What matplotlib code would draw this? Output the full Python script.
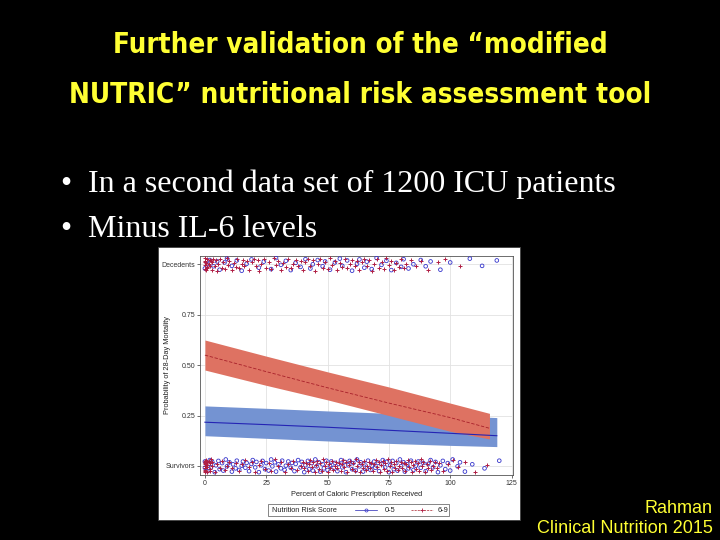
import numpy as np
import matplotlib
matplotlib.use("Agg")
import matplotlib.pyplot as plt
from matplotlib.patches import Rectangle
from matplotlib.lines import Line2D
from matplotlib import font_manager

# ---------------- data ----------------
title_lines = ["Further validation of the \u201cmodified", "NUTRIC\u201d nutritional risk assessment tool"]
bullets = ["In a second data set of 1200 ICU patients", "Minus IL-6 levels"]
credit = ["Rahman", "Clinical Nutrition 2015"]

x_ticks = [0, 25, 50, 75, 100, 125]
y_ticks = [0.0, 0.25, 0.50, 0.75, 1.0]
y_ticklabels = ["Survivors", "0.25", "0.50", "0.75", "Decedents"]

# fitted probability bands (risk 6-9)
hi_x = [0, 25, 50, 75, 100, 116]
hi_upper = [0.625, 0.545, 0.467, 0.392, 0.312, 0.261]
hi_fit = [0.550, 0.468, 0.388, 0.312, 0.240, 0.187]
hi_lower = [0.476, 0.400, 0.328, 0.250, 0.172, 0.134]
# fitted probability bands (risk 0-5)
lo_x = [0, 25, 50, 75, 100, 119]
lo_upper = [0.298, 0.286, 0.273, 0.261, 0.250, 0.240]
lo_fit = [0.217, 0.205, 0.192, 0.177, 0.162, 0.150]
lo_lower = [0.150, 0.137, 0.124, 0.112, 0.102, 0.096]

# observed outcomes (percent of caloric prescription received)
dec_hi = [0, 0, 0, 0, 0, 0.5, 0.5, 1, 1, 1, 1.5, 2, 2, 2.5, 3, 3, 3.5, 4, 4.5, 5, 5.5, 6, 7, 7.5,
          8, 9, 9.5, 10, 11, 12, 12.5, 13, 14, 15, 15.5, 16, 17, 18, 19, 20, 21, 21.5, 22, 23, 24,
          25, 26, 27, 28, 29, 30, 31, 32, 33, 34, 35, 36, 37, 38, 39, 40, 41, 42, 43, 44, 45, 46,
          47, 48, 49, 50, 51, 52, 53, 54, 55, 56, 57, 58, 59, 60, 61, 62, 63, 64, 65, 66, 67, 68,
          69, 70, 71, 72, 73, 74, 75, 76, 77, 78, 79, 80, 81, 82, 84, 86, 88, 91, 95, 98, 104]
dec_lo = [0, 1, 2, 3.5, 5, 6, 8, 9, 11, 13, 15, 17, 19, 22, 24, 27, 29, 31, 33, 35, 37, 39, 41,
          43, 44, 46, 48, 49, 51, 53, 55, 56, 58, 60, 62, 63, 65, 66, 68, 70, 72, 74, 76, 78, 80,
          81, 83, 85, 88, 90, 92, 96, 100, 108, 113, 119]
surv_hi = [0, 0, 0, 0, 0, 0, 0, 0, 0, 0, 0.5, 0.5, 1, 1, 1, 1, 1.5, 2, 2, 2, 2.5, 3, 3, 4, 5, 6,
           7, 8, 9, 10, 11, 12.5, 14, 15, 16.5, 18, 19, 20.5, 22, 23, 24.5, 26, 27, 28.5, 30, 31,
           32.5, 34, 35, 36, 37.5, 39, 40, 40.6, 41.2, 41.9, 42.3, 43, 43.5, 44.1, 44.8, 45.2,
           45.9, 46.4, 47, 47.7, 48.1, 48.8, 49.3, 50, 50.4, 51.1, 51.7, 52.2, 52.9, 53.4, 54,
           54.6, 55.3, 55.8, 56.2, 56.9, 57.5, 58, 58.7, 59.1, 59.8, 60.3, 61, 61.5, 62.2, 62.7,
           63.3, 63.9, 64.4, 65, 65.6, 66.1, 66.8, 67.2, 67.9, 68.4, 69, 69.7, 70.1, 70.8, 71.3,
           71.9, 72.5, 73, 73.6, 74.2, 74.7, 75.3, 75.9, 76.4, 77, 77.6, 78.1, 78.7, 79.2, 79.9,
           80.4, 81, 81.5, 82.1, 82.8, 83.3, 83.9, 84.4, 85, 85.7, 86.2, 86.8, 87.3, 88, 88.6,
           89.1, 89.8, 90.4, 91, 91.7, 92.3, 93, 93.8, 94.6, 95.5, 97, 99, 101, 103, 106, 110, 115]
surv_lo = [0, 0, 0.5, 1, 1.5, 2, 2.5, 3, 4, 4.5, 5.5, 6, 7, 7.5, 8.5, 9, 10, 11, 11.5, 12.5, 13,
           14, 15, 15.5, 16.5, 17, 18, 19, 19.5, 20.5, 21, 22, 23, 23.5, 24.5, 25, 26, 27, 27.5,
           28.5, 29, 30, 31, 31.5, 32.5, 33, 34, 35, 35.5, 36.5, 37, 38, 39, 39.5, 40.5, 41, 42,
           42.5, 43.5, 44, 45, 45.5, 46.5, 47, 48, 48.5, 49.5, 50, 51, 51.5, 52.5, 53, 54, 54.5,
           55.5, 56, 57, 57.5, 58.5, 59, 60, 60.5, 61.5, 62, 63, 63.5, 64.5, 65, 66, 66.5, 67.5,
           68, 69, 69.5, 70.5, 71, 72, 72.5, 73.5, 74, 75, 75.5, 76.5, 77, 78, 78.5, 79.5, 80, 81,
           81.5, 82.5, 83, 84, 85, 86, 87, 88, 89, 90, 91, 92, 93, 94, 95, 96, 97, 98, 99, 100,
           101, 103, 104, 106, 109, 114, 120]

# display jitter pattern (vertical offsets only)
JIT = [-0.026, 0.010, 0.029, -0.007, 0.020, -0.031, 0.003, 0.025, -0.016, 0.014, -0.023,
       0.032, -0.002, 0.018, -0.028, 0.008, -0.012, 0.026, -0.020, 0.001, 0.022, -0.009, 0.015]

RED_BAND = "#de7262"
BLUE_BAND = "#7493d2"
RED_LINE = "#a8202a"
BLUE_LINE = "#2424b4"
RED_MK = "#b01e44"
BLUE_MK = "#3434cc"
YELLOW = "#ffff33"

W, H = 720, 540
fig = plt.figure(figsize=(7.2, 5.4), dpi=100, facecolor="black")
renderer = fig.canvas.get_renderer()

def fx(px):
    return px / W

def fy(py):
    return 1 - py / H

def fit_width(txt, target_px):
    w = txt.get_window_extent(renderer=renderer).width
    txt.set_fontsize(txt.get_fontsize() * target_px / w)

# title (prefer a condensed bold face if one is installed)
names = {f.name for f in font_manager.fontManager.ttflist}
cond = [f for f in font_manager.fontManager.ttflist
        if f.name == "DejaVu Sans" and f.stretch == "condensed" and f.weight in (700, "bold")]
if "Liberation Sans Narrow" in names:
    tkw = dict(family=["Liberation Sans Narrow", "DejaVu Sans"])
elif cond:
    tkw = dict(family=["DejaVu Sans"], fontstretch="condensed")
else:
    tkw = dict(family=["Liberation Sans", "DejaVu Sans"])
t1 = fig.text(0.5, fy(53), title_lines[0], color=YELLOW, fontsize=22, fontweight="bold",
              ha="center", va="baseline", **tkw)
t2 = fig.text(0.5, fy(103), title_lines[1], color=YELLOW, fontsize=22, fontweight="bold",
              ha="center", va="baseline", **tkw)
fit_width(t1, 490)
fit_width(t2, 580)

# bullets
serif = ["Liberation Serif", "DejaVu Serif"]
for i, b in enumerate(bullets):
    yb = fy(192 + i * 45)
    fig.text(fx(60), yb, "\u2022", color="white", fontsize=23, family=serif, va="baseline")
    fig.text(fx(88), yb, b, color="white", fontsize=23, family=serif, va="baseline")

# credit
sans = ["Liberation Sans", "DejaVu Sans"]
fig.text(fx(713), fy(513), credit[0], color=YELLOW, fontsize=13, family=sans, ha="right", va="baseline")
fig.text(fx(713), fy(533), credit[1], color=YELLOW, fontsize=13, family=sans, ha="right", va="baseline")

# white image panel
fig.patches.append(Rectangle((fx(158), fy(520)), fx(520) - fx(158), fy(247) - fy(520),
                             transform=fig.transFigure, facecolor="white", edgecolor="#404040",
                             linewidth=0.6, zorder=0))

ax = fig.add_axes([fx(200), fy(475), fx(513) - fx(200), fy(256) - fy(475)])
ax.set_zorder(2)
ax.set_facecolor("white")
ax.set_xlim(-2.0, 125.6)
ax.set_ylim(-0.045, 1.042)

ax.fill_between(lo_x, lo_lower, lo_upper, color=BLUE_BAND, linewidth=0, zorder=2)
ax.fill_between(hi_x, hi_lower, hi_upper, color=RED_BAND, linewidth=0, zorder=3)
ax.plot(lo_x, lo_fit, color=BLUE_LINE, linewidth=0.8, zorder=4)
ax.plot(hi_x, hi_fit, color=RED_LINE, linewidth=0.6, dashes=(4, 2), zorder=4)

def jit(n, shift):
    return np.resize(np.roll(JIT, shift), n)

ax.scatter(surv_lo, 0 + jit(len(surv_lo), 3), marker="o", s=7, facecolors="none",
           edgecolors=BLUE_MK, linewidths=0.6, zorder=5)
ax.scatter(surv_hi, 0 + jit(len(surv_hi), 9), marker="+", s=10, color=RED_MK,
           linewidths=0.7, zorder=6)
ax.scatter(dec_lo, 1 + jit(len(dec_lo), 5), marker="o", s=7, facecolors="none",
           edgecolors=BLUE_MK, linewidths=0.6, zorder=5)
ax.scatter(dec_hi, 1 + jit(len(dec_hi), 14), marker="+", s=10, color=RED_MK,
           linewidths=0.7, zorder=6)

ax.set_xticks(x_ticks)
ax.set_yticks(y_ticks)
ax.set_yticklabels(y_ticklabels)
ax.grid(True, color="#e2e2e2", linewidth=0.6, zorder=0)
ax.set_axisbelow(True)
ax.tick_params(labelsize=5, colors="#333333", length=2, width=0.5, pad=1.5)
for lab in ax.get_xticklabels() + ax.get_yticklabels():
    lab.set_family(sans)
for s in ax.spines.values():
    s.set_color("#555555")
    s.set_linewidth(0.6)
ax.set_xlabel("Percent of Caloric Prescription Received", fontsize=5.3, family=sans,
              color="#222222", labelpad=3)
ax.set_ylabel("Probability of 28-Day Mortality", fontsize=5.3, family=sans, color="#222222")
ax.yaxis.set_label_coords((171 - 200) / 313, 0.5)

# legend box
fig.patches.append(Rectangle((fx(268), fy(516)), fx(449) - fx(268), fy(504) - fy(516),
                             transform=fig.transFigure, facecolor="white", edgecolor="#555555",
                             linewidth=0.5, zorder=1))
fig.text(fx(272), fy(510), "Nutrition Risk Score", fontsize=5.3, family=sans, color="#222222",
         va="center", zorder=2)
fig.lines.append(Line2D([fx(355), fx(377)], [fy(510), fy(510)], transform=fig.transFigure,
                        color=BLUE_LINE, linewidth=0.5, zorder=2))
fig.lines.append(Line2D([fx(366)], [fy(510)], transform=fig.transFigure, color=BLUE_MK,
                        marker="o", markersize=2.2, markerfacecolor="none", markeredgewidth=0.5,
                        linestyle="none", zorder=3))
fig.text(fx(385), fy(510), "0-5", fontsize=5.3, family=sans, color="#222222", va="center", zorder=2)
fig.lines.append(Line2D([fx(411), fx(433)], [fy(510), fy(510)], transform=fig.transFigure,
                        color=RED_LINE, linewidth=0.5, dashes=(3, 1.5), zorder=2))
fig.lines.append(Line2D([fx(422)], [fy(510)], transform=fig.transFigure, color=RED_MK,
                        marker="+", markersize=3, markeredgewidth=0.6, linestyle="none", zorder=3))
fig.text(fx(438), fy(510), "6-9", fontsize=5.3, family=sans, color="#222222", va="center", zorder=2)

fig.savefig("out.png", dpi=100, facecolor="black")
